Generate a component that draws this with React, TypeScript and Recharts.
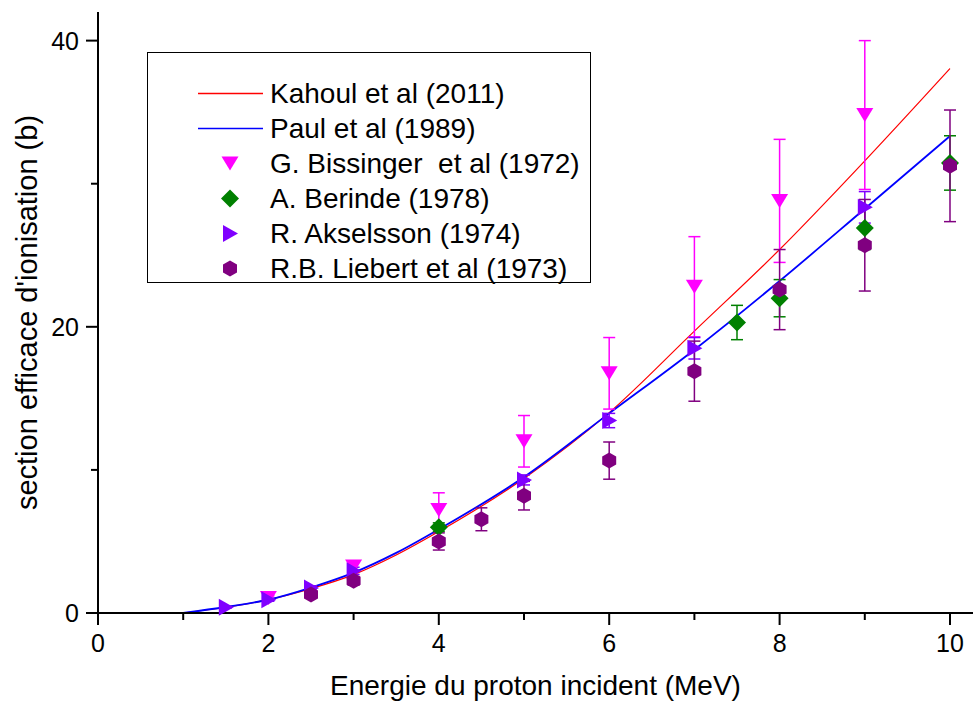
import { ComposedChart, ErrorBar, Legend, Line, Scatter, XAxis, YAxis } from 'recharts'

// Courbes théoriques (énergie en MeV, section efficace en barns)
const energies = [1, 1.5, 2, 2.5, 3, 3.5, 4, 5, 6, 7, 8, 9, 10]
const kahoul = [0, 0.4, 0.93, 1.7, 2.68, 4.05, 5.69, 9.4, 14.0, 19.7, 25.4, 31.6, 38.05]
const paul = [0, 0.42, 0.93, 1.78, 2.82, 4.2, 5.85, 9.5, 13.95, 18.4, 23.2, 28.25, 33.33]

// Mesures expérimentales
const bissingerE = [2, 3, 4, 5, 6, 7, 8, 9]
const bissingerS = [1.05, 3.25, 7.2, 12.0, 16.75, 22.8, 28.8, 34.8]
const bissingerErr = [0.15, 0.35, 1.2, 1.8, 2.5, 3.5, 4.3, 5.2]

const berindeE = [4, 7.5, 8, 9, 10]
const berindeS = [6.0, 20.3, 22.0, 26.9, 31.45]
const berindeErr = [0.3, 1.2, 1.3, 1.5, 1.9]

const akselssonE = [1.5, 2, 2.5, 3, 5, 6, 7, 9]
const akselssonS = [0.4, 0.92, 1.75, 2.95, 9.3, 13.45, 18.5, 28.35]
const akselssonErr = [0.05, 0.1, 0.15, 0.25, 0.35, 0.5, 0.75, 1.1]

const liebertE = [2.5, 3, 4, 4.5, 5, 6, 7, 8, 9, 10]
const liebertS = [1.3, 2.25, 5.0, 6.55, 8.2, 10.65, 16.9, 22.6, 25.7, 31.25]
const liebertErr = [0.15, 0.3, 0.6, 0.8, 1.0, 1.3, 2.1, 2.8, 3.2, 3.9]

const xTicks = [0, 1, 2, 3, 4, 5, 6, 7, 8, 9, 10]
const yTicks = [0, 10, 20, 30, 40]

const FONT = '"Liberation Sans", Arial, sans-serif'
const RED = '#ff0000'
const BLUE = '#0000ff'
const MAGENTA = '#ff00ff'
const GREEN = '#008000'
const VIOLET = '#8000ff'
const PURPLE = '#800080'

const lineData = energies.map((e, i) => ({ e, kahoul: kahoul[i], paul: paul[i] }))
const toPoints = (xs: number[], ys: number[], errs: number[]) =>
  xs.map((e, i) => ({ e, s: ys[i], err: errs[i] }))

// Symboles façon Origin
function downTriangle(cx: number, cy: number, fill: string) {
  return <polygon points={`${cx - 8.5},${cy - 7} ${cx + 8.5},${cy - 7} ${cx},${cy + 7}`} fill={fill} />
}
function diamond(cx: number, cy: number, fill: string) {
  return <polygon points={`${cx},${cy - 9} ${cx + 9},${cy} ${cx},${cy + 9} ${cx - 9},${cy}`} fill={fill} />
}
function rightTriangle(cx: number, cy: number, fill: string) {
  return <polygon points={`${cx - 7},${cy - 8.5} ${cx + 8},${cy} ${cx - 7},${cy + 8.5}`} fill={fill} />
}
function hexagon(cx: number, cy: number, fill: string) {
  return (
    <polygon
      points={`${cx},${cy - 8} ${cx + 7},${cy - 4} ${cx + 7},${cy + 4} ${cx},${cy + 8} ${cx - 7},${cy + 4} ${cx - 7},${cy - 4}`}
      fill={fill}
    />
  )
}

const legendItems = [
  { name: 'Kahoul et al (2011)', color: RED, kind: 'line' },
  { name: 'Paul et al (1989)', color: BLUE, kind: 'line' },
  { name: 'G. Bissinger  et al (1972)', color: MAGENTA, kind: 'down' },
  { name: 'A. Berinde (1978)', color: GREEN, kind: 'diamond' },
  { name: 'R. Akselsson (1974)', color: VIOLET, kind: 'right' },
  { name: 'R.B. Liebert et al (1973)', color: PURPLE, kind: 'hex' },
]

function renderLegend() {
  return (
    <div
      style={{
        width: 444,
        height: 231,
        border: '1px solid #000',
        boxSizing: 'border-box',
        background: '#fff',
        position: 'relative',
        fontFamily: FONT,
      }}
    >
      {legendItems.map((it, i) => (
        <div
          key={it.name}
          style={{ position: 'absolute', left: 0, top: 23 + i * 35, height: 35, display: 'flex', alignItems: 'center' }}
        >
          <svg width={122} height={35} style={{ display: 'block' }}>
            {it.kind === 'line' && <line x1={50} x2={115} y1={17.5} y2={17.5} stroke={it.color} strokeWidth={1.3} />}
            {it.kind === 'down' && downTriangle(82, 17.5, it.color)}
            {it.kind === 'diamond' && diamond(82, 17.5, it.color)}
            {it.kind === 'right' && rightTriangle(82, 17.5, it.color)}
            {it.kind === 'hex' && hexagon(82, 17.5, it.color)}
          </svg>
          <span style={{ fontSize: 28, color: '#000', whiteSpace: 'pre', lineHeight: '35px' }}>{it.name}</span>
        </div>
      ))}
    </div>
  )
}

function BottomTick({ x, y, payload }: any) {
  const major = payload.value % 2 === 0
  return (
    <g>
      <line x1={x} x2={x} y1={y} y2={y + (major ? 12 : 7)} stroke="#000" strokeWidth={2} />
      {major && (
        <text x={x} y={y + 39} textAnchor="middle" fontSize={25} fontFamily={FONT} fill="#000">
          {payload.value}
        </text>
      )}
    </g>
  )
}

function TopTick({ x, y, payload }: any) {
  const major = payload.value % 2 === 0
  return <line x1={x} x2={x} y1={y} y2={y + (major ? 12 : 7)} stroke="#000" strokeWidth={2} />
}

function LeftTick({ x, y, payload }: any) {
  const major = payload.value % 20 === 0
  return (
    <g>
      <line x1={x - (major ? 12 : 7)} x2={x} y1={y} y2={y} stroke="#000" strokeWidth={2} />
      {major && (
        <text x={x - 19} y={y + 9} textAnchor="end" fontSize={25} fontFamily={FONT} fill="#000">
          {payload.value}
        </text>
      )}
    </g>
  )
}

function RightTick({ x, y, payload }: any) {
  const major = payload.value % 20 === 0
  return <line x1={x - (major ? 12 : 7)} x2={x} y1={y} y2={y} stroke="#000" strokeWidth={2} />
}

function XTitle({ viewBox }: any) {
  return (
    <text x={viewBox.x + viewBox.width / 2} y={viewBox.y + 82} textAnchor="middle" fontSize={28} fontFamily={FONT} fill="#000">
      Energie du proton incident (MeV)
    </text>
  )
}

function YTitle({ viewBox }: any) {
  // Titre vertical centré sur l'axe
  const cy = viewBox.y + viewBox.height / 2
  return (
    <text x={37} y={cy} transform={`rotate(-90, 37, ${cy})`} textAnchor="middle" fontSize={29} fontFamily={FONT} fill="#000">
      section efficace d'ionisation (b)
    </text>
  )
}

export default function App() {
  const axisLine = { stroke: '#000', strokeWidth: 2 }
  return (
    <div style={{ position: 'absolute', left: 0, top: 0, width: 974, height: 706, background: '#fff' }}>
      <ComposedChart width={974} height={706} margin={{ top: 12, right: 1, bottom: 33, left: 38 }}>
        <XAxis
          type="number"
          dataKey="e"
          domain={[0, 10.27]}
          ticks={xTicks}
          interval={0}
          tickSize={0}
          tickMargin={0}
          tickLine={false}
          axisLine={axisLine}
          tick={<BottomTick />}
          height={60}
          label={XTitle}
        />
        <XAxis
          xAxisId="top"
          orientation="top"
          type="number"
          domain={[0, 10.27]}
          ticks={xTicks}
          interval={0}
          tickSize={0}
          tickMargin={0}
          tickLine={false}
          axisLine={axisLine}
          tick={<TopTick />}
          height={0}
        />
        <YAxis
          type="number"
          domain={[0, 42]}
          ticks={yTicks}
          interval={0}
          tickSize={0}
          tickMargin={0}
          tickLine={false}
          axisLine={axisLine}
          tick={<LeftTick />}
          width={60}
          label={YTitle}
        />
        <YAxis
          yAxisId="right"
          orientation="right"
          type="number"
          domain={[0, 42]}
          ticks={yTicks}
          interval={0}
          tickSize={0}
          tickMargin={0}
          tickLine={false}
          axisLine={axisLine}
          tick={<RightTick />}
          width={0}
        />
        <Legend
          content={renderLegend}
          layout="horizontal"
          verticalAlign="middle"
          align="center"
          wrapperStyle={{ left: 147, top: 52, width: 444, height: 231 }}
        />
        <Line
          data={lineData}
          dataKey="kahoul"
          type="monotone"
          stroke={RED}
          strokeWidth={1.2}
          dot={false}
          activeDot={false}
          isAnimationActive={false}
        />
        <Line
          data={lineData}
          dataKey="paul"
          type="monotone"
          stroke={BLUE}
          strokeWidth={1.8}
          dot={false}
          activeDot={false}
          isAnimationActive={false}
        />
        <Scatter
          data={toPoints(bissingerE, bissingerS, bissingerErr)}
          dataKey="s"
          isAnimationActive={false}
          shape={(p: any) => downTriangle(p.cx, p.cy, MAGENTA)}
        >
          <ErrorBar dataKey="err" direction="y" width={6} stroke={MAGENTA} strokeWidth={1.5} isAnimationActive={false} />
        </Scatter>
        <Scatter
          data={toPoints(berindeE, berindeS, berindeErr)}
          dataKey="s"
          isAnimationActive={false}
          shape={(p: any) => diamond(p.cx, p.cy, GREEN)}
        >
          <ErrorBar dataKey="err" direction="y" width={6} stroke={GREEN} strokeWidth={1.5} isAnimationActive={false} />
        </Scatter>
        <Scatter
          data={toPoints(akselssonE, akselssonS, akselssonErr)}
          dataKey="s"
          isAnimationActive={false}
          shape={(p: any) => rightTriangle(p.cx, p.cy, VIOLET)}
        >
          <ErrorBar dataKey="err" direction="y" width={6} stroke={VIOLET} strokeWidth={1.5} isAnimationActive={false} />
        </Scatter>
        <Scatter
          data={toPoints(liebertE, liebertS, liebertErr)}
          dataKey="s"
          isAnimationActive={false}
          shape={(p: any) => hexagon(p.cx, p.cy, PURPLE)}
        >
          <ErrorBar dataKey="err" direction="y" width={6} stroke={PURPLE} strokeWidth={1.5} isAnimationActive={false} />
        </Scatter>
      </ComposedChart>
    </div>
  )
}
